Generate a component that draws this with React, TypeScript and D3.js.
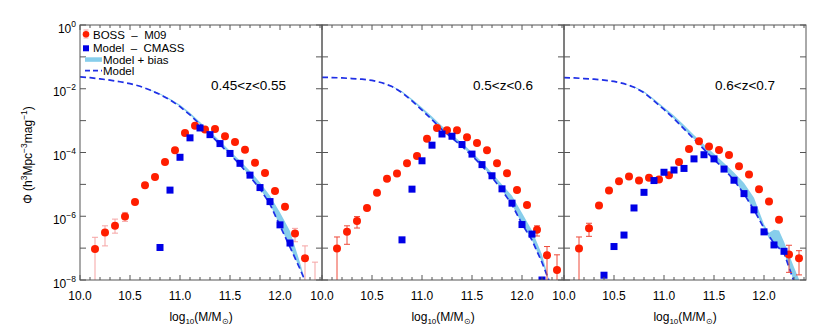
import React from "react";
import * as d3 from "d3";

const W = 830;
const H = 332;
const panelLeft = 80;
const panelW = 242;
const top = 25;
const bottom = 280;
const font = "'Liberation Sans', Arial, sans-serif";

// labels
const zLabels = ["0.45<z<0.55", "0.5<z<0.6", "0.6<z<0.7"];
const xTicks = [10.0, 10.5, 11.0, 11.5, 12.0];
const yTickExps = [0, -2, -4, -6, -8];

// BOSS - M09 (log10 phi), same mass bins in each panel
const bossMass = [10.15, 10.25, 10.35, 10.45, 10.55, 10.65, 10.75, 10.85, 10.95, 11.05, 11.15, 11.25,
  11.35, 11.45, 11.55, 11.65, 11.75, 11.85, 11.95, 12.05, 12.15, 12.25, 12.35];
const boss1 = [-7.03, -6.51, -6.3, -6.01, -5.55, -5.03, -4.77, -4.3, -3.93, -3.39, -3.16, -3.28,
  -3.26, -3.49, -3.67, -3.91, -4.32, -4.64, -5.21, -5.7, -6.54, -7.32, -8.6];
const bossHi1 = [-6.66, -6.3, -6.09, -5.88, null, null, null, null, null, null, null, null,
  null, null, null, null, null, null, null, null, -6.38, -6.93, -7.44];
const bossLo1 = [-9, -6.93, -6.53, -6.16, null, null, null, null, null, null, null, null,
  null, null, null, null, null, null, null, null, -6.8, -9, -9];
const boss2 = [-7.01, -6.49, -6.15, -5.74, -5.26, -4.82, -4.66, -4.34, -4.11, -3.57, -3.23, -3.3,
  -3.3, -3.52, -3.7, -3.93, -4.34, -4.65, -5.18, -5.65, -6.42, -7.22, -7.69];
const bossHi2 = [-6.65, -6.3, -6.01, null, null, null, null, null, null, null, null, null,
  null, null, null, null, null, null, null, null, -6.3, -6.95, -7.21];
const bossLo2 = [-9, -6.88, -6.37, null, null, null, null, null, null, null, null, null,
  null, null, null, null, null, null, null, null, -6.62, -9, -9];
const boss3 = [-7.01, -6.38, -5.66, -5.19, -4.9, -4.75, -4.88, -4.79, -4.85, -4.71, -4.3, -3.89,
  -3.65, -3.81, -3.92, -4.08, -4.43, -4.69, -5.15, -5.54, -6.11, -7.2, -7.32];
const bossHi3 = [-6.65, -6.22, null, null, null, null, null, null, null, null, null, null,
  null, null, null, null, null, null, null, null, null, -6.91, -7.08];
const bossLo3 = [-9, -6.63, null, null, null, null, null, null, null, null, null, null,
  null, null, null, null, null, null, null, null, null, -7.76, -7.84];

// Model - CMASS
const cmassMass1 = [10.8, 10.9, 11.0, 11.1, 11.2, 11.3, 11.4, 11.5, 11.6, 11.7, 11.8, 11.9, 12.0, 12.1];
const cmass1 = [-6.98, -5.18, -4.15, -3.54, -3.23, -3.44, -3.72, -4.03, -4.34, -4.71, -5.1, -5.54, -6.27, -6.84];
const cmassMass2 = [10.8, 10.9, 11.0, 11.1, 11.2, 11.3, 11.4, 11.5, 11.6, 11.7, 11.8, 11.9, 12.0, 12.1, 12.2];
const cmass2 = [-6.74, -5.15, -4.26, -3.77, -3.42, -3.49, -3.75, -4.05, -4.38, -4.73, -5.14, -5.59, -6.26, -6.56, -8.0];
const cmassMass3 = [10.4, 10.5, 10.6, 10.7, 10.8, 10.9, 11.0, 11.1, 11.2, 11.3, 11.4, 11.5, 11.6, 11.7,
  11.8, 11.9, 12.0, 12.1, 12.2];
const cmass3 = [-7.85, -6.95, -6.59, -5.74, -5.25, -4.88, -4.62, -4.55, -4.5, -4.2, -4.07, -4.2, -4.52,
  -4.87, -5.29, -5.8, -6.49, -6.9, -7.1];

// Model (dashed)
const modelMass1 = [10.0, 10.1, 10.2, 10.3, 10.4, 10.5, 10.6, 10.7, 10.8, 10.9, 11.0, 11.1, 11.2, 11.3,
  11.4, 11.5, 11.6, 11.7, 11.8, 11.9, 12.0, 12.1, 12.2, 12.26];
const model1 = [-1.63, -1.65, -1.69, -1.73, -1.78, -1.84, -1.92, -2.04, -2.18, -2.35, -2.56, -2.82, -3.12,
  -3.43, -3.75, -4.06, -4.38, -4.76, -5.14, -5.62, -6.3, -6.97, -7.65, -8.1];
const modelMass2 = [10.0, 10.1, 10.2, 10.3, 10.4, 10.5, 10.6, 10.7, 10.8, 10.9, 11.0, 11.1, 11.2, 11.3,
  11.4, 11.5, 11.6, 11.7, 11.8, 11.9, 12.0, 12.1, 12.2, 12.28];
const model2 = [-1.64, -1.65, -1.66, -1.68, -1.7, -1.74, -1.81, -1.93, -2.12, -2.38, -2.67, -2.97, -3.28,
  -3.55, -3.81, -4.1, -4.42, -4.78, -5.18, -5.64, -6.24, -6.75, -7.45, -8.1];
const modelMass3 = [10.0, 10.1, 10.2, 10.3, 10.4, 10.5, 10.6, 10.7, 10.8, 10.9, 11.0, 11.1, 11.2, 11.3,
  11.4, 11.5, 11.6, 11.7, 11.8, 11.9, 12.0, 12.1, 12.2, 12.3];
const model3 = [-1.65, -1.66, -1.68, -1.7, -1.73, -1.77, -1.84, -1.95, -2.12, -2.38, -2.65, -2.94, -3.26,
  -3.58, -3.9, -4.22, -4.52, -4.87, -5.3, -5.8, -6.38, -6.85, -7.15, -8.05];

// Model + bias band
const bandMass1 = [10.6, 10.7, 10.8, 10.9, 11.0, 11.1, 11.2, 11.3, 11.4, 11.5, 11.6, 11.7, 11.8, 11.9,
  12.0, 12.1, 12.2, 12.26];
const bandLo1 = [-1.92, -2.04, -2.18, -2.35, -2.56, -2.82, -3.12, -3.43, -3.75, -4.06, -4.38, -4.76, -5.14,
  -5.62, -6.3, -6.97, -7.65, -8.1];
const bandHi1 = [-1.92, -2.02, -2.15, -2.31, -2.5, -2.75, -3.04, -3.34, -3.64, -3.95, -4.26, -4.58, -4.94,
  -5.36, -5.88, -6.46, -7.45, -8.1];
const bandMass2 = [10.6, 10.7, 10.8, 10.9, 11.0, 11.1, 11.2, 11.3, 11.4, 11.5, 11.6, 11.7, 11.8, 11.9,
  12.0, 12.1, 12.2, 12.28];
const bandLo2 = [-1.81, -1.93, -2.12, -2.38, -2.67, -2.97, -3.28, -3.55, -3.81, -4.1, -4.42, -4.78, -5.18,
  -5.64, -6.24, -6.75, -7.45, -8.1];
const bandHi2 = [-1.81, -1.91, -2.08, -2.32, -2.59, -2.87, -3.17, -3.44, -3.7, -3.99, -4.3, -4.64, -5.0,
  -5.36, -5.9, -6.45, -7.2, -8.1];
const bandMass3 = [10.6, 10.7, 10.8, 10.9, 11.0, 11.1, 11.2, 11.3, 11.4, 11.5, 11.6, 11.7, 11.8, 11.9,
  12.0, 12.05, 12.1, 12.15, 12.2, 12.3, 12.38];
const bandLo3 = [-1.84, -1.95, -2.12, -2.38, -2.65, -2.94, -3.26, -3.58, -3.9, -4.22, -4.52, -4.87, -5.3,
  -5.8, -6.38, -6.7, -6.85, -6.98, -7.15, -8.05, -8.9];
const bandHi3 = [-1.84, -1.93, -2.08, -2.32, -2.58, -2.84, -3.14, -3.45, -3.75, -4.04, -4.33, -4.63, -4.96,
  -5.42, -6.25, -6.52, -6.42, -6.45, -6.8, -7.6, -8.2];

const panels = [
  { boss: boss1, hi: bossHi1, lo: bossLo1, cm: cmassMass1, c: cmass1, mm: modelMass1, m: model1,
    bm: bandMass1, bl: bandLo1, bh: bandHi1, errColor: "#f5a3a3" },
  { boss: boss2, hi: bossHi2, lo: bossLo2, cm: cmassMass2, c: cmass2, mm: modelMass2, m: model2,
    bm: bandMass2, bl: bandLo2, bh: bandHi2, errColor: "#ee4a3a" },
  { boss: boss3, hi: bossHi3, lo: bossLo3, cm: cmassMass3, c: cmass3, mm: modelMass3, m: model3,
    bm: bandMass3, bl: bandLo3, bh: bandHi3, errColor: "#ee4a3a" },
];

const RED = "#ff1e00";
const BLUE = "#0000e6";
const BAND = "#87ceeb";
const DASH = "#1f2fe6";

const y = d3.scaleLog().domain([1e-8, 1]).range([bottom, top]);
const py = (v: number) => y(Math.pow(10, v));

function Panel({ i }: { i: number }) {
  const p = panels[i];
  const L = panelLeft + i * panelW;
  const x = d3.scaleLinear().domain([10, 12.42]).range([L, L + panelW]);
  const area = d3
    .area<number>()
    .x((_, j) => x(p.bm[j]))
    .y0((d) => py(d))
    .y1((_, j) => py(p.bh[j]));
  const line = d3
    .line<number>()
    .x((_, j) => x(p.mm[j]))
    .y((d) => py(d));
  const minor = d3.range(0, 25).map((k) => 10 + k * 0.1);
  const decades = d3.range(0, 9).map((k) => -k);
  const frame = "#555";
  return (
    <g>
      <defs>
        <clipPath id={`clip${i}`}>
          <rect x={L} y={top} width={panelW} height={bottom - top} />
        </clipPath>
      </defs>
      <g clipPath={`url(#clip${i})`}>
        <path d={area(p.bl) || ""} fill={BAND} />
        <path d={line(p.m) || ""} fill="none" stroke={DASH} strokeWidth={1.7} strokeDasharray="6,3.5" />
        {p.boss.map((v, j) =>
          p.hi[j] !== null ? (
            <g key={`e${j}`} stroke={p.errColor} strokeWidth={1}>
              <line x1={x(bossMass[j])} x2={x(bossMass[j])} y1={py(p.hi[j] as number)} y2={py(p.lo[j] as number)} />
              <line x1={x(bossMass[j]) - 3} x2={x(bossMass[j]) + 3} y1={py(p.hi[j] as number)} y2={py(p.hi[j] as number)} />
              <line x1={x(bossMass[j]) - 3} x2={x(bossMass[j]) + 3} y1={py(p.lo[j] as number)} y2={py(p.lo[j] as number)} />
            </g>
          ) : null
        )}
        {p.boss.map((v, j) => (
          <circle key={`b${j}`} cx={x(bossMass[j])} cy={py(v)} r={4} fill={RED} />
        ))}
        {p.c.map((v, j) => (
          <rect key={`c${j}`} x={x(p.cm[j]) - 3.5} y={py(v) - 3.5} width={7} height={7} fill={BLUE} />
        ))}
      </g>
      {/* frame and ticks */}
      <rect x={L} y={top} width={panelW} height={bottom - top} fill="none" stroke={frame} strokeWidth={1} />
      {minor.map((m, k) => {
        const major = k % 5 === 0;
        const len = major ? 5 : 3;
        return (
          <g key={`xt${k}`} stroke={frame}>
            <line x1={x(m)} x2={x(m)} y1={bottom} y2={bottom - len} />
            <line x1={x(m)} x2={x(m)} y1={top} y2={top + len} />
          </g>
        );
      })}
      {decades.map((d) => (
        <g key={`yt${d}`} stroke={frame}>
          <line x1={L} x2={L + 6} y1={py(d)} y2={py(d)} />
          <line x1={L + panelW} x2={L + panelW - 6} y1={py(d)} y2={py(d)} />
        </g>
      ))}
      {xTicks.map((t) => (
        <text key={`xl${t}`} x={x(t)} y={300} textAnchor="middle" fontSize={12} fontFamily={font}>
          {t.toFixed(1)}
        </text>
      ))}
      <text x={L + panelW / 2} y={321} textAnchor="middle" fontSize={12} fontFamily={font}>
        log<tspan fontSize={8} dy={3}>10</tspan>
        <tspan dy={-3}>(M/M</tspan>
        <tspan fontSize={8} dy={3}>⊙</tspan>
        <tspan dy={-3}>)</tspan>
      </text>
      <text x={[211, 473, 715][i]} y={90} fontSize={13.5} fontFamily={font}>
        {zLabels[i]}
      </text>
    </g>
  );
}

export default function App() {
  const lx = 86;
  return (
    <svg width={W} height={H} style={{ position: "absolute", left: 0, top: 0, background: "#fff" }}>
      {[0, 1, 2].map((i) => (
        <Panel key={i} i={i} />
      ))}
      {yTickExps.map((e) => (
        <text key={e} x={76} y={py(e) + 7.5} textAnchor="end" fontSize={12} fontFamily={font}>
          10<tspan fontSize={8.5} dy={-6}>{e === 0 ? "0" : `−${-e}`}</tspan>
        </text>
      ))}
      <text transform="translate(32,155) rotate(-90)" textAnchor="middle" fontSize={12} fontFamily={font}>
        Φ (h<tspan fontSize={8.5} dy={-5}>3</tspan>
        <tspan dy={5}>Mpc</tspan>
        <tspan fontSize={8.5} dy={-5}>−3</tspan>
        <tspan dy={5}>mag</tspan>
        <tspan fontSize={8.5} dy={-5}>−1</tspan>
        <tspan dy={5}>)</tspan>
      </text>
      {/* legend */}
      <g fontFamily={font} fontSize={11.5}>
        <line x1={lx} x2={lx} y1={30} y2={38} stroke="#f5a3a3" />
        <line x1={lx - 2.5} x2={lx + 2.5} y1={30} y2={30} stroke="#f5a3a3" />
        <line x1={lx - 2.5} x2={lx + 2.5} y1={38} y2={38} stroke="#f5a3a3" />
        <circle cx={lx} cy={34.3} r={3.3} fill={RED} />
        <text x={93} y={38.5}>{"BOSS\u00a0\u00a0–\u00a0\u00a0M09"}</text>
        <rect x={lx - 3} y={45.3} width={6} height={6} fill={BLUE} />
        <text x={93} y={51.5}>{"Model\u00a0\u00a0–\u00a0\u00a0CMASS"}</text>
        <rect x={85} y={57.3} width={17} height={4.5} fill={BAND} />
        <text x={103} y={63.5}>{"Model\u00a0+\u00a0bias"}</text>
        <line x1={85} x2={102} y1={70.7} y2={70.7} stroke={DASH} strokeWidth={1.7} strokeDasharray="5,3" />
        <text x={103} y={75}>Model</text>
      </g>
    </svg>
  );
}
